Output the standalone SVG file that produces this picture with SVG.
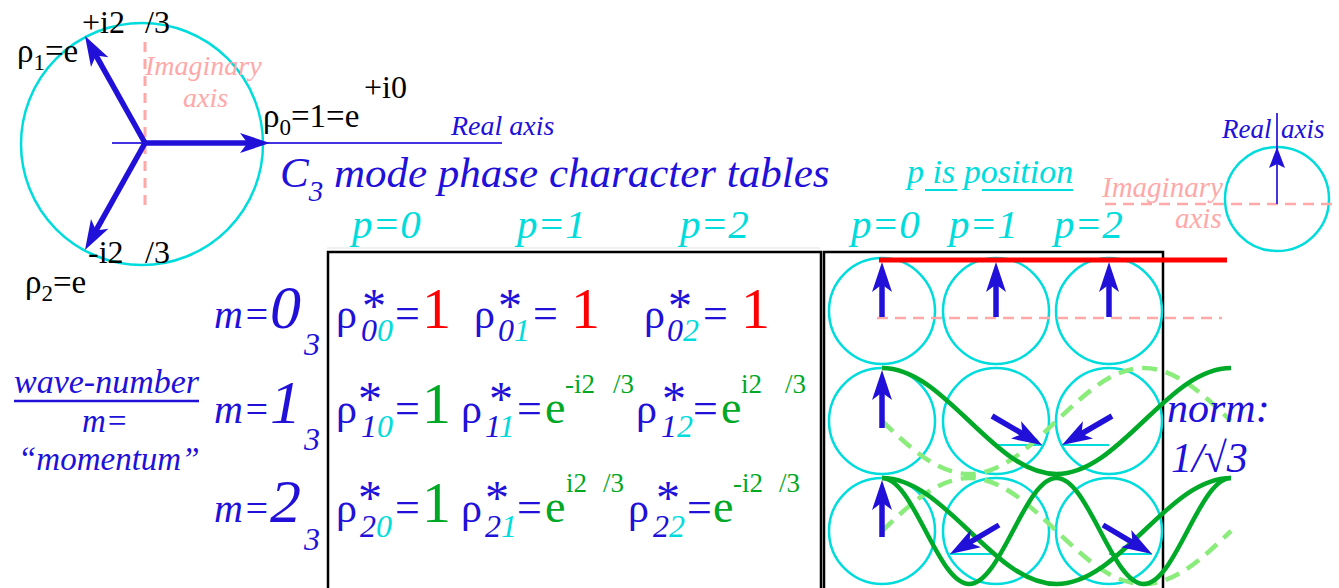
<svg xmlns="http://www.w3.org/2000/svg" width="1339" height="588" viewBox="0 0 1339 588">
<rect width="1339" height="588" fill="#fff"/>
<g id="phasor-circle">
<circle cx="142" cy="144" r="121" fill="none" stroke="#00dcdc" stroke-width="2.5"/>
<line x1="112" y1="143" x2="502" y2="143" stroke="#4433e0" stroke-width="1.8"/>
<line x1="145" y1="42" x2="145" y2="212" stroke="#ffa8a8" stroke-width="3" stroke-dasharray="10 7"/>
<line x1="145" y1="143" x2="250" y2="143" stroke="#2010d8" stroke-width="5.5"/>
<line x1="145" y1="143" x2="94.8" y2="53.4" stroke="#2010d8" stroke-width="5.5"/>
<line x1="145" y1="143" x2="94.8" y2="232.6" stroke="#2010d8" stroke-width="5.5"/>
<polygon fill="#2010d8" points="270,143 240,133 247.5,143 240,153"/>
<polygon fill="#2010d8" points="85,36 108.4,57.2 96,55.6 91,67"/>
<polygon fill="#2010d8" points="85,250 91,219 96,230.4 108.4,228.8"/>
</g>
<g id="table-frame">
<line x1="327" y1="248" x2="820" y2="248" stroke="#ececec" stroke-width="1.5"/>
<rect x="328" y="252" width="493" height="345" fill="none" stroke="#000" stroke-width="2.5"/>
</g>
<g id="phase-grid">
<rect x="824" y="252" width="339" height="345" fill="none" stroke="#000" stroke-width="2.5"/>
<g fill="none" stroke="#00dcdc" stroke-width="2.5">
<circle cx="882" cy="311" r="53"/>
<circle cx="996" cy="311" r="53"/>
<circle cx="1109" cy="311" r="53"/>
<circle cx="882" cy="421" r="53"/>
<circle cx="996" cy="421" r="53"/>
<circle cx="1109" cy="421" r="53"/>
<circle cx="882" cy="531" r="53"/>
<circle cx="996" cy="531" r="53"/>
<circle cx="1109" cy="531" r="53"/>
</g>
<line x1="877" y1="318" x2="1222" y2="318" stroke="#ffa8a8" stroke-width="2.5" stroke-dasharray="11 7"/>
<g stroke="#00dcdc" stroke-width="1.8">
<line x1="996" y1="445" x2="1042" y2="445"/>
<line x1="1062" y1="445" x2="1109" y2="445"/>
<line x1="950" y1="554" x2="996" y2="554"/>
<line x1="1109" y1="554" x2="1152" y2="554"/>
</g>
</g>
<g id="waves" fill="none" stroke-width="4.5">
<path stroke="#8aec7a" stroke-dasharray="15 9" d="M882,421 C910.45,448.15 937.67,474 969.25,474 C1000.83,474 1028.05,448.15 1056.5,421 C1084.95,393.85 1112.17,368 1143.75,368 C1175.33,368 1202.55,393.85 1231,421"/>
<path stroke="#8aec7a" stroke-dasharray="15 9" d="M882,531 C910.45,503.85 937.67,478 969.25,478 C1000.83,478 1028.05,503.85 1056.5,531 C1084.95,558.15 1112.17,584 1143.75,584 C1175.33,584 1202.55,558.15 1231,531"/>
<path stroke="#00aa28" d="M882,368 C913.58,368 940.8,393.85 969.25,421 C997.7,448.15 1024.92,474 1056.5,474 C1088.08,474 1115.3,448.15 1143.75,421 C1172.2,393.85 1199.42,368 1231,368"/>
<path stroke="#00aa28" d="M882,478 C913.58,478 940.8,503.85 969.25,531 C997.7,558.15 1024.92,584 1056.5,584 C1088.08,584 1115.3,558.15 1143.75,531 C1172.2,503.85 1199.42,478 1231,478"/>
<path stroke="#00aa28" d="M882,478 C897.79,478 911.4,503.85 925.63,531 C939.86,558.15 953.47,584 969.25,584 C985.04,584 998.65,558.15 1012.88,531 C1027.11,503.85 1040.72,478 1056.5,478 C1072.29,478 1085.9,503.85 1100.13,531 C1114.36,558.15 1127.97,584 1143.75,584 C1159.54,584 1173.15,558.15 1187.38,531 C1201.61,503.85 1215.22,478 1231,478"/>
</g>
<g id="grid-arrows">
<g stroke="#2010d8" stroke-width="5.5">
<line x1="882" y1="317" x2="882" y2="282"/>
<line x1="996" y1="317" x2="996" y2="282"/>
<line x1="1109" y1="317" x2="1109" y2="282"/>
<line x1="882" y1="428" x2="882" y2="390"/>
<line x1="992" y1="416" x2="1024.7" y2="435"/>
<line x1="1112" y1="416" x2="1079.3" y2="435"/>
<line x1="882" y1="537" x2="882" y2="500"/>
<line x1="999" y1="525" x2="967.2" y2="543.8"/>
<line x1="1103" y1="525" x2="1134.8" y2="543.8"/>
</g>
<g fill="#2010d8">
<polygon points="882,262 872,292 882,284.5 892,292"/>
<polygon points="996,262 986,292 996,284.5 1006,292"/>
<polygon points="1109,262 1099,292 1109,284.5 1119,292"/>
<polygon points="882,370 872,400 882,392.5 892,400"/>
<polygon points="882,480 872,510 882,502.5 892,510"/>
<polygon points="1042,445 1011,438.6 1022.5,433.7 1021.1,421.3"/>
<polygon points="1062,445 1082.9,421.3 1081.5,433.7 1093,438.6"/>
<polygon points="950,554 970.7,530.1 969.4,542.5 980.9,547.3"/>
<polygon points="1152,554 1121.1,547.3 1132.6,542.5 1131.3,530.1"/>
</g>
<line x1="879" y1="260" x2="1227" y2="260" stroke="#ff0000" stroke-width="5"/>
</g>
<g id="legend-circle">
<circle cx="1277" cy="199" r="52" fill="none" stroke="#00dcdc" stroke-width="2.5"/>
<line x1="1105" y1="204" x2="1339" y2="204" stroke="#ffa8a8" stroke-width="2.5" stroke-dasharray="11 7"/>
<line x1="1277" y1="113" x2="1277" y2="204" stroke="#4433e0" stroke-width="2"/>
<polygon points="1277,147 1269,168 1277,164 1285,168" fill="#2010d8"/>
</g>
<line x1="14" y1="401" x2="199" y2="401" stroke="#2010d8" stroke-width="2.5"/>
<line x1="925" y1="190" x2="957" y2="190" stroke="#00dcdc" stroke-width="2"/>
<line x1="982" y1="190" x2="1073" y2="190" stroke="#00dcdc" stroke-width="2"/>
<text x="145" y="75" font-size="28" font-family="Liberation Serif" font-style="italic" fill="#ffa8a8">Imaginary</text>
<text x="183" y="107" font-size="28" font-family="Liberation Serif" font-style="italic" fill="#ffa8a8">axis</text>
<text x="451" y="135" font-size="28" font-family="Liberation Serif" font-style="italic" fill="#2010d8">Real axis</text>
<text x="82" y="33" font-size="32" font-family="Liberation Serif" fill="#000">+i2<tspan x="145">/3</tspan></text>
<text x="17" y="62" font-size="33" font-family="Liberation Serif" fill="#000">ρ<tspan font-size="23" dy="8">1</tspan><tspan dy="-8">=e</tspan></text>
<text x="263" y="127" font-size="33" font-family="Liberation Serif" fill="#000">ρ<tspan font-size="23" dy="8">0</tspan><tspan dy="-8">=1=e</tspan></text>
<text x="364" y="98" font-size="32" font-family="Liberation Serif" fill="#000">+i0</text>
<text x="88" y="263" font-size="32" font-family="Liberation Serif" fill="#000">-i2<tspan x="145">/3</tspan></text>
<text x="25" y="293" font-size="33" font-family="Liberation Serif" fill="#000">ρ<tspan font-size="23" dy="8">2</tspan><tspan dy="-8">=e</tspan></text>
<text x="280" y="187" font-size="43" font-family="Liberation Serif" font-style="italic" fill="#2010d8">C<tspan font-size="29" dy="14">3</tspan><tspan dy="-14"> mode phase character tables</tspan></text>
<text x="352" y="238" font-size="41" font-family="Liberation Serif" font-style="italic" fill="#00dcdc">p=0</text>
<text x="517" y="238" font-size="41" font-family="Liberation Serif" font-style="italic" fill="#00dcdc">p=1</text>
<text x="680" y="238" font-size="41" font-family="Liberation Serif" font-style="italic" fill="#00dcdc">p=2</text>
<text x="851" y="238" font-size="41" font-family="Liberation Serif" font-style="italic" fill="#00dcdc">p=0</text>
<text x="949" y="238" font-size="41" font-family="Liberation Serif" font-style="italic" fill="#00dcdc">p=1</text>
<text x="1054" y="238" font-size="41" font-family="Liberation Serif" font-style="italic" fill="#00dcdc">p=2</text>
<text x="907" y="183" font-size="34" font-family="Liberation Serif" font-style="italic" fill="#00dcdc">p is position</text>
<text x="14" y="393" font-size="34" font-family="Liberation Serif" font-style="italic" fill="#2010d8">wave-number</text>
<text x="82" y="432" font-size="33" font-family="Liberation Serif" font-style="italic" fill="#2010d8">m=</text>
<text x="18" y="470" font-size="33" font-family="Liberation Serif" font-style="italic" fill="#2010d8">“momentum”</text>
<text x="214" y="328" font-size="40" font-family="Liberation Serif" font-style="italic" fill="#2010d8">m=<tspan font-size="62">0</tspan><tspan font-size="32" x="304" y="355">3</tspan></text>
<text x="214" y="423" font-size="40" font-family="Liberation Serif" font-style="italic" fill="#2010d8">m=<tspan font-size="62">1</tspan><tspan font-size="32" x="304" y="450">3</tspan></text>
<text x="214" y="522" font-size="40" font-family="Liberation Serif" font-style="italic" fill="#2010d8">m=<tspan font-size="62">2</tspan><tspan font-size="32" x="304" y="550">3</tspan></text>
<text x="336" y="328" font-size="42" font-family="Liberation Serif" fill="#2010d8">ρ<tspan font-size="48" x="362" y="322">*</tspan><tspan font-style="italic" font-size="32" x="361" y="341">0</tspan><tspan font-style="italic" fill="#00dcdc" font-size="32">0</tspan><tspan font-size="44" x="395" y="328">=</tspan><tspan fill="#ff0000" font-size="58" x="422">1</tspan></text>
<text x="474" y="328" font-size="42" font-family="Liberation Serif" fill="#2010d8">ρ<tspan font-size="48" x="498" y="322">*</tspan><tspan font-style="italic" font-size="32" x="498" y="341">0</tspan><tspan font-style="italic" fill="#00dcdc" font-size="32">1</tspan><tspan font-size="44" x="533" y="328">=</tspan><tspan fill="#ff0000" font-size="58" x="571">1</tspan></text>
<text x="644" y="328" font-size="42" font-family="Liberation Serif" fill="#2010d8">ρ<tspan font-size="48" x="668" y="322">*</tspan><tspan font-style="italic" font-size="32" x="667" y="341">0</tspan><tspan font-style="italic" fill="#00dcdc" font-size="32">2</tspan><tspan font-size="44" x="703" y="328">=</tspan><tspan fill="#ff0000" font-size="58" x="741">1</tspan></text>
<text x="336" y="423" font-size="42" font-family="Liberation Serif" fill="#2010d8">ρ<tspan font-size="48" x="358" y="415">*</tspan><tspan font-style="italic" font-size="32" x="361" y="437">1</tspan><tspan font-style="italic" fill="#00dcdc" font-size="32">0</tspan><tspan font-size="44" x="395" y="423">=</tspan><tspan fill="#00a826" font-size="58" x="422">1</tspan></text>
<text x="461" y="423" font-size="42" font-family="Liberation Serif" fill="#2010d8">ρ<tspan font-size="48" x="489" y="415">*</tspan><tspan font-style="italic" font-size="32" x="485" y="437">1</tspan><tspan font-style="italic" fill="#00dcdc" font-size="32">1</tspan><tspan font-size="44" x="517" y="423">=</tspan><tspan fill="#00a826" font-size="46" x="545">e</tspan><tspan fill="#00a826" font-size="27" x="565" y="393">-i2</tspan><tspan fill="#00a826" font-size="27" x="613">/3</tspan></text>
<text x="636" y="423" font-size="42" font-family="Liberation Serif" fill="#2010d8">ρ<tspan font-size="48" x="662" y="415">*</tspan><tspan font-style="italic" font-size="32" x="661" y="437">1</tspan><tspan font-style="italic" fill="#00dcdc" font-size="32">2</tspan><tspan font-size="44" x="693" y="423">=</tspan><tspan fill="#00a826" font-size="46" x="721">e</tspan><tspan fill="#00a826" font-size="27" x="741" y="393">i2</tspan><tspan fill="#00a826" font-size="27" x="785">/3</tspan></text>
<text x="336" y="522" font-size="42" font-family="Liberation Serif" fill="#2010d8">ρ<tspan font-size="48" x="358" y="514">*</tspan><tspan font-style="italic" font-size="32" x="360" y="537">2</tspan><tspan font-style="italic" fill="#00dcdc" font-size="32">0</tspan><tspan font-size="44" x="395" y="522">=</tspan><tspan fill="#00a826" font-size="58" x="422">1</tspan></text>
<text x="461" y="522" font-size="42" font-family="Liberation Serif" fill="#2010d8">ρ<tspan font-size="48" x="485" y="514">*</tspan><tspan font-style="italic" font-size="32" x="485" y="537">2</tspan><tspan font-style="italic" fill="#00dcdc" font-size="32">1</tspan><tspan font-size="44" x="517" y="522">=</tspan><tspan fill="#00a826" font-size="46" x="545">e</tspan><tspan fill="#00a826" font-size="27" x="566" y="492">i2</tspan><tspan fill="#00a826" font-size="27" x="603">/3</tspan></text>
<text x="628" y="522" font-size="42" font-family="Liberation Serif" fill="#2010d8">ρ<tspan font-size="48" x="656" y="514">*</tspan><tspan font-style="italic" font-size="32" x="653" y="537">2</tspan><tspan font-style="italic" fill="#00dcdc" font-size="32">2</tspan><tspan font-size="44" x="687" y="522">=</tspan><tspan fill="#00a826" font-size="46" x="713">e</tspan><tspan fill="#00a826" font-size="27" x="733" y="492">-i2</tspan><tspan fill="#00a826" font-size="27" x="779">/3</tspan></text>
<text x="1167" y="422" font-size="42" font-family="Liberation Serif" font-style="italic" fill="#2010d8">norm:</text>
<text x="1171" y="472" font-size="42" font-family="Liberation Serif" font-style="italic" fill="#2010d8">1/√3</text>
<text x="1222" y="138" font-size="27" font-family="Liberation Serif" font-style="italic" fill="#2010d8">Real<tspan x="1281">axis</tspan></text>
<text x="1102" y="197" font-size="29" font-family="Liberation Serif" font-style="italic" fill="#ffa8a8">Imaginary</text>
<text x="1175" y="228" font-size="29" font-family="Liberation Serif" font-style="italic" fill="#ffa8a8">axis</text>
</svg>
